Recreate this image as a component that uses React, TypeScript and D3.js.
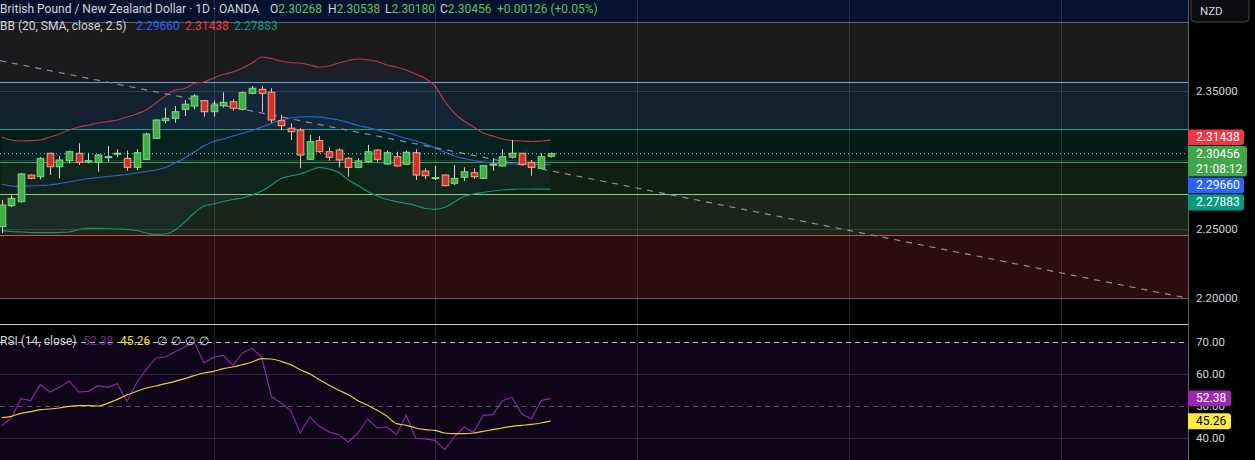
import React, { useRef, useEffect } from 'react';
import * as d3 from 'd3';

const W = 1255;
const H = 460;
const PLOT_W = 1188;

// GBP/NZD daily candles, oldest first
const opens = [
  2.2517, 2.2669, 2.2698, 2.2891, 2.2879, 2.3049, 2.2951, 2.2995, 2.3049, 2.2986,
  2.2983, 2.3017, 2.3045, 2.3012, 2.2947, 2.3005, 2.3157, 2.3285, 2.3302, 2.3367,
  2.3391, 2.343, 2.335, 2.3394, 2.3422, 2.3367, 2.3483, 2.3512, 2.3491, 2.3285,
  2.323, 2.3217, 2.3005, 2.314, 2.306, 2.3072, 2.3012, 2.2947, 2.2988, 2.3072,
  2.2971, 2.3024, 2.2969, 2.3053, 2.292, 2.2866, 2.2891, 2.2831, 2.2875, 2.2908,
  2.2867, 2.2967, 2.2957, 2.302, 2.3049, 2.2983, 2.294, 2.30268,
];
const highs = [
  2.271, 2.2746, 2.2904, 2.2895, 2.302, 2.3052, 2.3029, 2.3068, 2.3121, 2.3053,
  2.3041, 2.3101, 2.3078, 2.3068, 2.3078, 2.3199, 2.3295, 2.3379, 2.3391, 2.3435,
  2.3476, 2.3435, 2.343, 2.3491, 2.344, 2.3495, 2.3536, 2.3536, 2.352, 2.3326,
  2.3266, 2.323, 2.3181, 2.3174, 2.3092, 2.3085, 2.302, 2.3012, 2.3109, 2.3078,
  2.3068, 2.306, 2.3068, 2.3078, 2.294, 2.2957, 2.2896, 2.2964, 2.2947, 2.294,
  2.2964, 2.3012, 2.3078, 2.3145, 2.3049, 2.3, 2.3049, 2.30538,
];
const lows = [
  2.2471, 2.2659, 2.2691, 2.286, 2.286, 2.2891, 2.2867, 2.2976, 2.2964, 2.2976,
  2.2915, 2.2988, 2.302, 2.2922, 2.2927, 2.3, 2.3152, 2.3266, 2.327, 2.3319,
  2.3367, 2.3314, 2.3314, 2.3379, 2.3357, 2.336, 2.3476, 2.335, 2.327, 2.3217,
  2.3145, 2.294, 2.3, 2.3053, 2.2995, 2.2947, 2.2879, 2.294, 2.2981, 2.2988,
  2.2964, 2.2951, 2.2964, 2.2855, 2.2862, 2.2855, 2.281, 2.2819, 2.285, 2.2862,
  2.2862, 2.2922, 2.2951, 2.3012, 2.2964, 2.2886, 2.2935, 2.3018,
];
const closes = [
  2.2674, 2.2722, 2.2899, 2.2867, 2.3012, 2.2951, 2.3, 2.306, 2.2983, 2.2995,
  2.3036, 2.3024, 2.3049, 2.2947, 2.3053, 2.3188, 2.329, 2.3302, 2.335, 2.3404,
  2.3464, 2.335, 2.3399, 2.3418, 2.3375, 2.3488, 2.352, 2.3483, 2.329, 2.3249,
  2.3205, 2.3036, 2.3133, 2.306, 2.302, 2.3, 2.2947, 2.2993, 2.306, 2.3005,
  2.3053, 2.2957, 2.3056, 2.2891, 2.2886, 2.2872, 2.2814, 2.2867, 2.2915, 2.2879,
  2.2959, 2.297, 2.3024, 2.3049, 2.2969, 2.2947, 2.3024, 2.30456,
];

// Bollinger Bands (20, SMA, close, 2.5)
const bbUpper = [
  2.31667, 2.31449, 2.31377, 2.31399, 2.31449, 2.31667, 2.31884, 2.32174, 2.32391, 2.32536,
  2.32681, 2.3279, 2.32899, 2.33116, 2.33333, 2.33623, 2.3413, 2.34638, 2.35072, 2.35181,
  2.35543, 2.35652, 2.35942, 2.36196, 2.36377, 2.36667, 2.37029, 2.37464, 2.37355, 2.37174,
  2.37065, 2.37029, 2.36884, 2.36739, 2.36812, 2.37029, 2.3721, 2.37319, 2.37261, 2.37138,
  2.36884, 2.36739, 2.36522, 2.36232, 2.35906, 2.35362, 2.34275, 2.33406, 2.32826, 2.32391,
  2.31957, 2.31739, 2.31522, 2.31413, 2.31377, 2.31341, 2.31377, 2.31438,
];
const bbBasis = [
  2.28261, 2.28116, 2.2808, 2.28116, 2.28152, 2.28188, 2.28297, 2.28406, 2.28551, 2.28659,
  2.28732, 2.28804, 2.28877, 2.28949, 2.29058, 2.29167, 2.29275, 2.29457, 2.29783, 2.30145,
  2.3058, 2.31014, 2.31341, 2.31522, 2.31739, 2.3192, 2.32138, 2.32391, 2.32645, 2.32899,
  2.33043, 2.33116, 2.33138, 2.33101, 2.33007, 2.32899, 2.32717, 2.325, 2.32355, 2.32174,
  2.31993, 2.31775, 2.31558, 2.31377, 2.31159, 2.3087, 2.3058, 2.3029, 2.30109, 2.29964,
  2.29855, 2.29783, 2.29746, 2.2971, 2.29696, 2.29681, 2.29667, 2.2966,
];
const bbLower = [
  2.24877, 2.24819, 2.24783, 2.24746, 2.24732, 2.24732, 2.24746, 2.24783, 2.24964, 2.25051,
  2.25051, 2.25036, 2.25, 2.24978, 2.24891, 2.2471, 2.24616, 2.24638, 2.24928, 2.25507,
  2.26159, 2.26667, 2.26812, 2.26993, 2.27138, 2.27246, 2.27464, 2.27754, 2.28188, 2.28659,
  2.28841, 2.28986, 2.29239, 2.29471, 2.29348, 2.29094, 2.28551, 2.28152, 2.27717, 2.27391,
  2.27138, 2.26978, 2.26848, 2.26703, 2.26486, 2.26428, 2.26558, 2.26957, 2.27355, 2.27536,
  2.27645, 2.27754, 2.27826, 2.27877, 2.27899, 2.27899, 2.27883, 2.27883,
];

// RSI (14, close) and its moving average
const rsiValues = [
  43.85, 46.25, 52.29, 51.67, 56.67, 54.38, 55.83, 57.81, 54.38, 54.58,
  56.35, 55.83, 56.98, 51.46, 57.19, 61.35, 65.0, 65.31, 66.98, 68.44,
  69.9, 63.44, 65.21, 65.83, 62.71, 66.56, 68.02, 65.21, 53.02, 50.94,
  48.65, 41.56, 46.56, 43.65, 41.88, 41.04, 38.75, 41.56, 45.94, 43.13,
  43.44, 41.04, 47.08, 39.9, 39.69, 39.27, 36.35, 40.31, 43.44, 41.77,
  47.08, 47.29, 51.67, 52.71, 47.5, 45.94, 51.67, 52.38,
];
const rsiMa = [
  46.35, 46.77, 47.71, 48.23, 48.85, 49.06, 49.38, 49.9, 50.1, 50.1,
  50.0, 50.83, 52.08, 53.44, 54.58, 55.63, 56.25, 56.98, 57.71, 58.54,
  59.48, 60.31, 60.83, 61.67, 62.19, 62.92, 63.75, 64.79, 64.69, 63.96,
  62.92, 61.35, 60.0, 58.23, 56.46, 54.9, 53.54, 51.67, 50.21, 48.65,
  46.77, 44.48, 43.96, 43.13, 42.6, 42.4, 41.56, 41.35, 41.35, 41.56,
  42.08, 42.6, 43.13, 43.65, 43.96, 44.27, 44.69, 45.26,
];

// drawn horizontal zones (price levels, top to bottom)
const zoneLevels = [2.4, 2.3563, 2.32246, 2.29833, 2.27536, 2.24565, 2.2];
// trend line anchors (bar index, price)
const trendIdx = [-0.18, 122.9];
const trendPrice = [2.372, 2.2002];
// month boundaries (bar index)
const monthIdx = [22, 45, 66, 88, 110];

const priceTicks = [2.35, 2.3, 2.25, 2.2];
const priceLabelTicks = [2.35, 2.25, 2.2];
const rsiTicks = [70, 60, 50, 40];

const lastClose = 2.30456;
const countdown = '21:08:12';

const FONT = 'Roboto, "Noto Sans", sans-serif';
const GRAY = '#d1d4dc';
const GREEN = '#5cc25f';

const zoneFills = ['#06122e', '#1b1b1d', '#13212f', '#041c17', '#0f1f10', '#1a261a', '#2b0d10'];
const zoneLines = ['#5d606b', '#6fa8dc', '#2a9d8f', '#3ea643', '#8ccf8a', '#d84a4a', '#6b5a62'];

const App: React.FC = () => {
  const ref = useRef<SVGSVGElement>(null);

  useEffect(() => {
    const svg = d3.select(ref.current);
    svg.selectAll('*').remove();

    const x = d3.scaleLinear().domain([0, 57]).range([1.7, 550.6]);
    const y = d3.scaleLinear().domain([2.2, 2.35]).range([298, 91]);
    const ry = d3.scaleLinear().domain([40, 70]).range([438, 342]);

    svg.append('rect').attr('width', W).attr('height', H).attr('fill', '#000');

    const defs = svg.append('defs');
    defs.append('clipPath').attr('id', 'price-clip')
      .append('rect').attr('width', PLOT_W).attr('height', 324);
    defs.append('clipPath').attr('id', 'rsi-clip')
      .append('rect').attr('y', 325).attr('width', PLOT_W).attr('height', H - 325);

    // ---------- price pane ----------
    const pane = svg.append('g').attr('clip-path', 'url(#price-clip)');

    const bounds = [2.5, ...zoneLevels];
    zoneFills.forEach((c, i) => {
      pane.append('rect')
        .attr('x', 0).attr('width', PLOT_W)
        .attr('y', y(bounds[i])).attr('height', y(bounds[i + 1]) - y(bounds[i]))
        .attr('fill', c);
    });

    pane.selectAll('line.grid').data(priceTicks).enter().append('line')
      .attr('x1', 0).attr('x2', PLOT_W)
      .attr('y1', (d) => Math.round(y(d)) + 0.5).attr('y2', (d) => Math.round(y(d)) + 0.5)
      .attr('stroke', 'rgba(255,255,255,0.12)');

    zoneLevels.forEach((lv, i) => {
      pane.append('line')
        .attr('x1', 0).attr('x2', PLOT_W)
        .attr('y1', Math.round(y(lv)) + 0.5).attr('y2', Math.round(y(lv)) + 0.5)
        .attr('stroke', zoneLines[i]).attr('stroke-width', 1);
    });

    // BB
    const idx = d3.range(closes.length);
    pane.append('path')
      .attr('d', d3.area<number>().x((i) => x(i)).y0((i) => y(bbLower[i])).y1((i) => y(bbUpper[i]))(idx))
      .attr('fill', 'rgba(33,150,243,0.05)');
    const bbLine = (arr: number[], color: string) =>
      pane.append('path')
        .attr('d', d3.line<number>().x((i) => x(i)).y((i) => y(arr[i])).curve(d3.curveMonotoneX)(idx))
        .attr('fill', 'none').attr('stroke', color).attr('stroke-width', 1.2);
    bbLine(bbUpper, '#b8394e');
    bbLine(bbBasis, '#2c62dc');
    bbLine(bbLower, '#16917c');

    // trend line
    pane.append('line')
      .attr('x1', x(trendIdx[0])).attr('y1', y(trendPrice[0]))
      .attr('x2', x(trendIdx[1])).attr('y2', y(trendPrice[1]))
      .attr('stroke', '#8d9099').attr('stroke-width', 1.2).attr('stroke-dasharray', '6,6');

    // candles
    const bodyW = 6.6;
    const candles = pane.selectAll('g.candle').data(idx).enter().append('g');
    candles.append('line')
      .attr('x1', (i) => Math.round(x(i)) + 0.5).attr('x2', (i) => Math.round(x(i)) + 0.5)
      .attr('y1', (i) => y(highs[i])).attr('y2', (i) => y(lows[i]))
      .attr('stroke', (i) => (closes[i] >= opens[i] ? '#c9dcc9' : '#e2c6c0'))
      .attr('stroke-width', 1);
    candles.append('rect')
      .attr('x', (i) => Math.round(x(i)) + 0.5 - bodyW / 2)
      .attr('width', bodyW)
      .attr('y', (i) => y(Math.max(opens[i], closes[i])))
      .attr('height', (i) => Math.max(1, Math.abs(y(opens[i]) - y(closes[i]))))
      .attr('fill', (i) => (closes[i] >= opens[i] ? '#3fb044' : '#d9302a'))
      .attr('stroke', (i) => (closes[i] >= opens[i] ? '#86d886' : '#f6a883'))
      .attr('stroke-width', 1);

    // last price line
    pane.append('line')
      .attr('x1', 0).attr('x2', PLOT_W)
      .attr('y1', y(lastClose)).attr('y2', y(lastClose))
      .attr('stroke', '#9fc9a5').attr('stroke-dasharray', '1,3');

    // ---------- rsi pane ----------
    const rp = svg.append('g').attr('clip-path', 'url(#rsi-clip)');
    rp.append('rect')
      .attr('x', 0).attr('width', PLOT_W)
      .attr('y', ry(70)).attr('height', ry(30) - ry(70))
      .attr('fill', '#10041a');
    rsiTicks.forEach((t) => {
      const yy = Math.round(ry(t)) + 0.5;
      rp.append('line').attr('x1', 0).attr('x2', PLOT_W).attr('y1', yy).attr('y2', yy)
        .attr('stroke', t === 70 ? '#c4c6cc' : t === 50 ? 'rgba(190,170,200,0.45)' : 'rgba(255,255,255,0.14)')
        .attr('stroke-dasharray', t === 70 || t === 50 ? '5,4' : null);
    });
    rp.append('path')
      .attr('d', d3.line<number>().x((i) => x(i)).y((i) => ry(rsiValues[i]))(idx))
      .attr('fill', 'none').attr('stroke', '#8e2ba3').attr('stroke-width', 1.1);
    rp.append('path')
      .attr('d', d3.line<number>().x((i) => x(i)).y((i) => ry(rsiMa[i])).curve(d3.curveMonotoneX)(idx))
      .attr('fill', 'none').attr('stroke', '#e6cf3e').attr('stroke-width', 1.2);

    // vertical month grid
    svg.selectAll('line.vgrid').data(monthIdx).enter().append('line')
      .attr('x1', (d) => Math.round(x(d)) + 0.5).attr('x2', (d) => Math.round(x(d)) + 0.5)
      .attr('y1', 0).attr('y2', H)
      .attr('stroke', 'rgba(255,255,255,0.13)');

    // separators
    svg.append('line').attr('x1', 0).attr('x2', PLOT_W).attr('y1', 324.5).attr('y2', 324.5)
      .attr('stroke', '#c9ccd4');
    svg.append('line').attr('x1', PLOT_W + 0.5).attr('x2', PLOT_W + 0.5).attr('y1', 0).attr('y2', H)
      .attr('stroke', '#5d606b');

    // ---------- legends ----------
    const txt = (g: any, px: number, py: number, s: string, c: string, size = 11.5) =>
      g.append('text').attr('x', px).attr('y', py).attr('fill', c)
        .attr('font-family', FONT).attr('font-size', size).attr('dominant-baseline', 'central')
        .text(s);

    // legend row: [start x or null to flow on, text, colour]
    const legend = (py: number, parts: [number | null, string, string][]) => {
      const t = svg.append('text').attr('y', py).attr('font-family', FONT).attr('font-size', 12)
        .attr('dominant-baseline', 'central');
      parts.forEach(([px, s, c]) => {
        const sp = t.append('tspan').attr('fill', c).text(s);
        if (px !== null) sp.attr('x', px);
      });
    };

    legend(8.5, [
      [0, 'British Pound / New Zealand Dollar · 1D · OANDA', GRAY],
      [270, 'O', GRAY], [null, '2.30268', GREEN],
      [328, 'H', GRAY], [null, '2.30538', GREEN],
      [385, 'L', GRAY], [null, '2.30180', GREEN],
      [440, 'C', GRAY], [null, '2.30456', GREEN],
      [497, '+0.00126 (+0.05%)', GREEN],
    ]);
    legend(25.5, [
      [0, 'BB (20, SMA, close, 2.5)', GRAY],
      [136, '2.29660', '#2962ff'],
      [185, '2.31438', '#f23645'],
      [234, '2.27883', '#089981'],
    ]);
    legend(340.5, [
      [0, 'RSI (14, close)', GRAY],
      [83, '52.38', '#7b2a8c'],
      [120, '45.26', '#f2e03a'],
      [157, '∅', GRAY], [171, '∅', GRAY], [185, '∅', GRAY], [199, '∅', GRAY],
    ]);

    // ---------- right axis ----------
    const ax = svg.append('g');
    priceLabelTicks.forEach((t) => txt(ax, 1196, y(t), t.toFixed(5), GRAY));
    rsiTicks.forEach((t) => txt(ax, 1196, ry(t), t.toFixed(2), GRAY));

    const tag = (top: number, h: number, w: number, fill: string, lines: string[], color: string) => {
      ax.append('path')
        .attr('d', `M${PLOT_W},${top}h${w - 3}q3,0 3,3v${h - 6}q0,3 -3,3h${-(w - 3)}z`)
        .attr('fill', fill);
      lines.forEach((s, k) => txt(ax, 1196, top + (h / lines.length) * (k + 0.5), s, color, 12));
    };
    const gTop = y(lastClose) - 7.6;
    tag(gTop, 30.5, 59, '#3fa64a', [lastClose.toFixed(5), countdown], '#ffffff');
    tag(gTop - 16.6, 15.6, 56, '#f23645', [bbUpper[57].toFixed(5)], '#ffffff');
    tag(gTop + 31.5, 15.6, 56, '#2962ff', [bbBasis[57].toFixed(5)], '#ffffff');
    tag(gTop + 48.1, 16.4, 56, '#089981', [bbLower[57].toFixed(5)], '#ffffff');
    tag(ry(rsiValues[57]) - 7.8, 15.6, 43, '#9c27b0', [rsiValues[57].toFixed(2)], '#ffffff');
    tag(ry(rsiMa[57]) - 8, 16, 43, '#ffeb3b', [rsiMa[57].toFixed(2)], '#000000');

    // currency button
    svg.append('rect').attr('x', 1191).attr('y', -5).attr('width', 58).attr('height', 27)
      .attr('rx', 4).attr('fill', '#0d0e12').attr('stroke', '#434651');
    txt(svg, 1200, 10.5, 'NZD', GRAY, 11.5);
  }, []);

  return (
    <svg
      ref={ref}
      width={W}
      height={H}
      style={{ position: 'fixed', left: 0, top: 0, display: 'block' }}
    />
  );
};

export default App;
